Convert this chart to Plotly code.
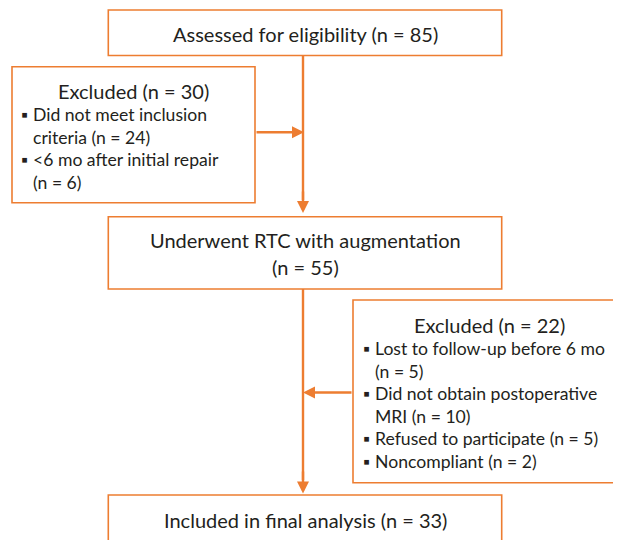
import plotly.graph_objects as go

# ---- data ----
assessed_n = 85
excluded1_n = 30
excluded1_reasons = ["Did not meet inclusion criteria", "<6 mo after initial repair"]
excluded1_counts = [24, 6]
underwent_n = 55
excluded2_n = 22
excluded2_reasons = ["Lost to follow-up before 6 mo", "Did not obtain postoperative MRI",
                     "Refused to participate", "Noncompliant"]
excluded2_counts = [5, 10, 5, 2]
included_n = 33

# wrapped lines for each bullet (text layout)
excluded1_wrap = [["Did not meet inclusion", "criteria (n = {})"],
                  ["<6 mo after initial repair", "(n = {})"]]
excluded2_wrap = [["Lost to follow-up before 6 mo", "(n = {})"],
                  ["Did not obtain postoperative", "MRI (n = {})"],
                  ["Refused to participate (n = {})"],
                  ["Noncompliant (n = {})"]]

# ---- layout / style ----
W, H = 621, 540
OFF = 8  # page body margin
ORANGE = "#ED7D31"
TXT = "#231f20"
FONT = "Lato"
FS_HEAD = 20
FS_BUL = 17.6
LINE = 22.5
BORDER_W = 1.6
ARROW_W = 2.4

boxes = {
    "assessed": (108.3, 10, 501.7, 55.5),
    "excl1": (12, 66.7, 255, 202.7),
    "underwent": (108.3, 216.7, 501.7, 289),
    "excl2": (353, 300, 626, 482.7),
    "included": (108.3, 495, 501.7, 560),
}

fig = go.Figure()
shapes = []
annotations = []

for key, (x0, y0, x1, y1) in boxes.items():
    shapes.append(dict(type="rect", xref="x", yref="y", x0=x0, y0=y0, x1=x1, y1=y1,
                       line=dict(color=ORANGE, width=BORDER_W), fillcolor="rgba(0,0,0,0)"))

def text(x, y, s, anchor="center", size=FS_HEAD):
    annotations.append(dict(x=x, y=y, xref="x", yref="y", text=s, showarrow=False,
                            xanchor=anchor, yanchor="middle",
                            font=dict(family=FONT, size=size, color=TXT)))

def cx(b):
    return (boxes[b][0] + boxes[b][2]) / 2

# main boxes
text(cx("assessed"), 34, f"Assessed for eligibility (n = {assessed_n})")
text(cx("underwent"), 240, "Underwent RTC with augmentation")
text(cx("underwent"), 266.5, f"(n = {underwent_n})")
text(cx("included"), 520, f"Included in final analysis (n = {included_n})")

# excluded box 1
text(cx("excl1"), 91, f"Excluded (n = {excluded1_n})")
y = 114.5
for lines, n in zip(excluded1_wrap, excluded1_counts):
    text(19, y, "▪", "left", FS_BUL)
    for ln in lines:
        text(31, y, ln.format(n), "left", FS_BUL)
        y += LINE

# excluded box 2
text(489.5, 325, f"Excluded (n = {excluded2_n})")
y = 348.5
for lines, n in zip(excluded2_wrap, excluded2_counts):
    text(361, y, "▪", "left", FS_BUL)
    for ln in lines:
        text(372.5, y, ln.format(n), "left", FS_BUL)
        y += LINE

# connectors
XV = 303
shapes.append(dict(type="line", xref="x", yref="y", x0=XV, y0=boxes["assessed"][3],
                   x1=XV, y1=200, line=dict(color=ORANGE, width=ARROW_W)))
shapes.append(dict(type="line", xref="x", yref="y", x0=XV, y0=boxes["underwent"][3],
                   x1=XV, y1=480, line=dict(color=ORANGE, width=ARROW_W)))

def arrow(x0, y0, x1, y1):
    annotations.append(dict(x=x1, y=y1, ax=x0, ay=y0, xref="x", yref="y", axref="x", ayref="y",
                            text="", showarrow=True, arrowhead=2, arrowsize=1,
                            arrowwidth=ARROW_W, arrowcolor=ORANGE, standoff=0, startstandoff=0))

arrow(XV, 190, XV, 213)
arrow(XV, 470, XV, 493.5)
arrow(boxes["excl1"][2], 132.3, XV + 1, 132.3)
arrow(boxes["excl2"][0], 392.5, XV, 392.5)

fig.update_layout(
    width=W - OFF, height=H - OFF, margin=dict(l=0, r=0, t=0, b=0),
    paper_bgcolor="white", plot_bgcolor="white",
    xaxis=dict(range=[OFF, W], visible=False, fixedrange=True),
    yaxis=dict(range=[H, OFF], visible=False, fixedrange=True),
    shapes=shapes, annotations=annotations, showlegend=False,
)
fig.write_html("out.html")
